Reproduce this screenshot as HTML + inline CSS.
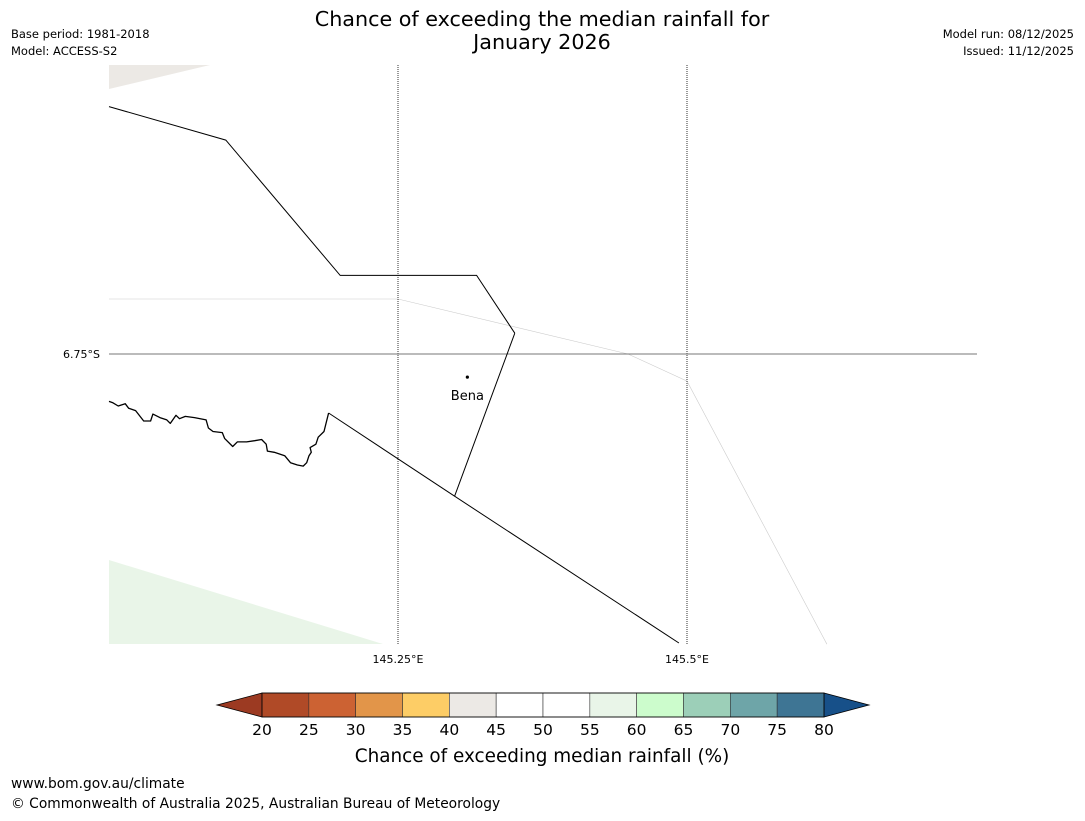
<!DOCTYPE html>
<html><head><meta charset="utf-8"><style>
body{margin:0;background:#fff;font-family:"Liberation Sans","DejaVu Sans",sans-serif;}
svg text{font-family:"DejaVu Sans","Liberation Sans",sans-serif;}
</style></head><body>
<svg id="chart" width="1085" height="816" xmlns="http://www.w3.org/2000/svg">
<text x="542" y="26" text-anchor="middle" font-size="20.7">Chance of exceeding the median rainfall for</text>
<text x="542" y="49" text-anchor="middle" font-size="20.7">January 2026</text>
<text x="11" y="38" font-size="11.5">Base period: 1981-2018</text>
<text x="11" y="55" font-size="11.5">Model: ACCESS-S2</text>
<text x="1074" y="38" font-size="11.5" text-anchor="end">Model run: 08/12/2025</text>
<text x="1074" y="55" font-size="11.5" text-anchor="end">Issued: 11/12/2025</text>
<g id="map"></g>
<g id="cbar"></g>
<text x="542" y="762" text-anchor="middle" font-size="18.4">Chance of exceeding median rainfall (%)</text>
<text x="11" y="788" font-size="13.8">www.bom.gov.au/climate</text>
<text x="11" y="808" font-size="13.8">© Commonwealth of Australia 2025, Australian Bureau of Meteorology</text>
</svg>
<script>
const lonTicks=[145.25,145.5];
const lonLabels=["145.25°E","145.5°E"];
const latTicks=[-6.75];
const latLabels=["6.75°S"];
const binEdges=[20,25,30,35,40,45,50,55,60,65,70,75,80];
const binColors=["#b04a27","#cc6233","#e29549","#fdcd66","#ece9e5","#ffffff","#ffffff","#e9f5e8","#ccfccc","#9ccfb8","#6ea5a8","#3e7594"];
const underColor="#9c3a22", overColor="#175089";
const town={name:"Bena",lon:145.31,lat:-6.77};
const boundary1=[[145.0,-6.536],[145.101,-6.565],[145.2,-6.682],[145.318,-6.682],[145.351,-6.732]];
const boundary2=[[145.351,-6.732],[145.299,-6.873],[145.493,-7.0]];
const boundary3=[[145.19,-6.801],[145.299,-6.873]];
const coast=[[145.0,-6.791],[145.003,-6.792],[145.008,-6.795],[145.014,-6.793],[145.017,-6.797],[145.023,-6.799],[145.03,-6.808],[145.036,-6.808],[145.038,-6.802],[145.044,-6.805],[145.05,-6.807],[145.053,-6.81],[145.058,-6.803],[145.061,-6.806],[145.066,-6.804],[145.074,-6.805],[145.084,-6.807],[145.086,-6.814],[145.09,-6.817],[145.098,-6.818],[145.1,-6.823],[145.107,-6.83],[145.111,-6.826],[145.119,-6.826],[145.126,-6.825],[145.132,-6.824],[145.136,-6.828],[145.137,-6.834],[145.143,-6.835],[145.152,-6.838],[145.157,-6.844],[145.163,-6.846],[145.168,-6.847],[145.171,-6.844],[145.173,-6.838],[145.175,-6.835],[145.174,-6.831],[145.179,-6.828],[145.181,-6.822],[145.186,-6.817],[145.19,-6.801]];
const faint=[[145.0,-6.7024],[145.25,-6.7024],[145.449,-6.75],[145.5,-6.7734],[145.621,-7.001]];
const X0=109,X1=977,Y0=65,Y1=644;
function xs(lon){return 398+(lon-145.25)*(687-398)/0.25;}
function ys(lat){return 354-(lat+6.75)*(687-398)/0.25;}
const NS="http://www.w3.org/2000/svg";
function mk(p,tag,attrs){const e=document.createElementNS(NS,tag);for(const k in attrs)e.setAttribute(k,attrs[k]);p.appendChild(e);return e;}
const map=document.getElementById('map');
let e;
e=mk(map,'polygon',{points:`109,65 210,65 109,89`,fill:"#ece9e5"});


e=mk(map,'polygon',{points:`109,560 383,644 109,644`,fill:"#e9f5e8"});


function pts(a){return a.map(p=>xs(p[0]).toFixed(1)+','+ys(p[1]).toFixed(1)).join(' ');}
e=mk(map,'polyline',{points:pts(faint),fill:"none",stroke:"#ccc","stroke-width":0.6});


lonTicks.forEach((t,i)=>{
 e=mk(map,'line',{x1:xs(t),x2:xs(t),y1:Y0,y2:Y1,stroke:"#000","stroke-width":0.8,"stroke-dasharray":"1,1"});
 
 
 e=mk(map,'text',{x:xs(t),y:663,"text-anchor":"middle","font-size":11});e.textContent=lonLabels[i];
 
 
});
latTicks.forEach((t,i)=>{
 e=mk(map,'line',{x1:X0,x2:X1,y1:ys(t),y2:ys(t),stroke:"#777","stroke-width":1});
 
 
 e=mk(map,'text',{x:100,y:ys(t)+4,"text-anchor":"end","font-size":11});e.textContent=latLabels[i];
 
 
});
[boundary1,boundary2,boundary3].forEach(b=>{
 e=mk(map,'polyline',{points:pts(b),fill:"none",stroke:"#000","stroke-width":1});
 
 
});
e=mk(map,'polyline',{points:pts(coast),fill:"none",stroke:"#000","stroke-width":1.3,"stroke-linejoin":"round"});


e=mk(map,'circle',{cx:xs(town.lon),cy:ys(town.lat),r:1.6,fill:"#000"});


e=mk(map,'text',{x:xs(town.lon),y:ys(town.lat)+23,"text-anchor":"middle","font-size":13});e.textContent=town.name;


const cb=document.getElementById('cbar');
const CX0=262,CX1=824,CY0=693,CY1=717;
function cx(v){return CX0+(v-binEdges[0])*(CX1-CX0)/(binEdges[binEdges.length-1]-binEdges[0]);}
e=mk(cb,'polygon',{points:`${CX0},${CY0} 217,${(CY0+CY1)/2} ${CX0},${CY1}`,fill:underColor,stroke:"#000","stroke-width":0.8});


e=mk(cb,'polygon',{points:`${CX1},${CY0} 869,${(CY0+CY1)/2} ${CX1},${CY1}`,fill:overColor,stroke:"#000","stroke-width":0.8});


binColors.forEach((c,i)=>{
 e=mk(cb,'rect',{x:cx(binEdges[i]),y:CY0,width:cx(binEdges[i+1])-cx(binEdges[i]),height:CY1-CY0,fill:c,stroke:"#333","stroke-width":0.6});
 
 
});
e=mk(cb,'rect',{x:CX0,y:CY0,width:CX1-CX0,height:CY1-CY0,fill:"none",stroke:"#000","stroke-width":0.8});


binEdges.forEach(v=>{
 e=mk(cb,'text',{x:cx(v),y:735,"text-anchor":"middle","font-size":15.5});e.textContent=v;
 
 
});
</script>
</body></html>
